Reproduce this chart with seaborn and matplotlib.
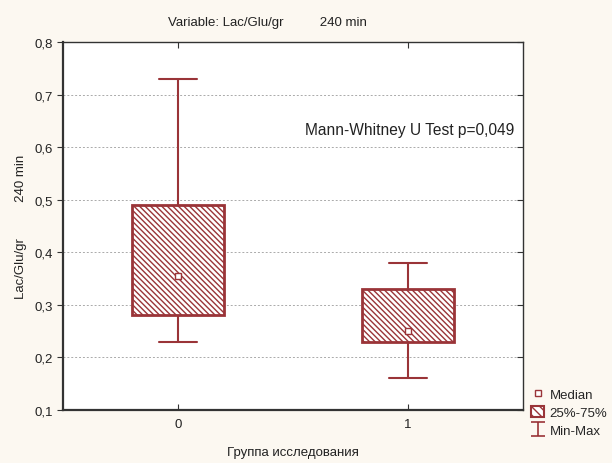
import numpy as np
import pandas as pd
import matplotlib
matplotlib.use("Agg")
import matplotlib.pyplot as plt
import seaborn as sns
from matplotlib.path import Path
from matplotlib.lines import Line2D
from matplotlib.patches import Patch
from matplotlib.ticker import FuncFormatter, MultipleLocator

# Data: five-number summaries
groups = ["0", "1"]
mins = [0.23, 0.16]
q1s = [0.28, 0.23]
medians = [0.355, 0.25]
q3s = [0.49, 0.33]
maxs = [0.73, 0.38]

RED = "#9A3438"
BG = "#FCF8F1"
TXT = "#222222"
HATCH = "\\" * 6

sns.set_theme(style="white")
plt.rcParams["font.family"] = ["Liberation Sans", "DejaVu Sans"]
plt.rcParams["hatch.linewidth"] = 1.0
plt.rcParams["hatch.color"] = RED

rows = []
for g, a, b, c, d, e in zip(groups, mins, q1s, medians, q3s, maxs):
    for v in (a, b, c, d, e):
        rows.append({"group": g, "value": v})
df = pd.DataFrame(rows)

fig = plt.figure(figsize=(6.12, 4.64), dpi=100, facecolor=BG)
ax = fig.add_axes([63 / 612, 53 / 464, 460 / 612, 368 / 464])
ax.set_facecolor("white")

sns.boxplot(
    data=df, x="group", y="value", order=groups, ax=ax,
    whis=(0, 100), width=0.4, showfliers=False,
    color="white", linecolor=RED, linewidth=1.5,
    medianprops={"visible": False},
    capwidths=0.165,
)
for p in ax.patches:
    p.set_hatch(HATCH)
    p.set_edgecolor(RED)
    p.set_facecolor("white")
    p.set_linewidth(2.0)

ax.plot(range(len(groups)), medians, linestyle="none", marker="s",
        markersize=4.5, markerfacecolor="white", markeredgecolor=RED,
        markeredgewidth=1.0, zorder=5)

ax.set_xlim(-0.5, 1.5)
ax.set_ylim(0.1, 0.8)
ax.yaxis.set_major_locator(MultipleLocator(0.1))
ax.yaxis.set_major_formatter(FuncFormatter(lambda v, p: f"{v:.1f}".replace(".", ",")))
ax.grid(axis="y", linestyle=(0, (2, 2)), color="#AAAAAA", linewidth=0.7)
ax.grid(axis="x", visible=False)
ax.set_axisbelow(True)

for s in ax.spines.values():
    s.set_color("#333333")
    s.set_linewidth(1.0)
ax.spines["left"].set_linewidth(1.6)
ax.spines["bottom"].set_linewidth(1.6)

ax.tick_params(axis="y", which="both", left=True, right=True, direction="out",
               length=4, width=0.8, color="#333333", labelsize=9.5, labelcolor=TXT)
ax.tick_params(axis="x", bottom=True, top=True, direction="in", length=4,
               width=0.8, color="#333333", labelsize=9.5, labelcolor=TXT, pad=6)
for t in ax.yaxis.get_major_ticks():
    t.tick2line.set_marker(matplotlib.lines.TICKLEFT)

ax.set_xlabel("Группа исследования", fontsize=9.5, color=TXT, labelpad=11)
ax.set_ylabel("Lac/Glu/gr          240 min", fontsize=9.5, color=TXT, labelpad=5)
fig.text(168 / 612, 1 - 23 / 464, "Variable: Lac/Glu/gr          240 min",
         fontsize=9.5, color=TXT, ha="left", va="center")

ax.text(0.552, 0.634, "Mann-Whitney U Test p=0,049", fontsize=11.2, color=TXT,
        ha="left", va="center")

ibeam = Path([(-1, 1), (1, 1), (0, 1), (0, -1), (-1, -1), (1, -1)],
             [Path.MOVETO, Path.LINETO, Path.MOVETO, Path.LINETO, Path.MOVETO, Path.LINETO])
handles = [
    Line2D([], [], linestyle="none", marker="s", markersize=4.5,
           markerfacecolor="white", markeredgecolor=RED, markeredgewidth=1.0),
    Patch(facecolor="white", edgecolor=RED, hatch="\\\\\\\\", linewidth=1.5),
    Line2D([], [], linestyle="none", marker=ibeam, markersize=10,
           markeredgecolor=RED, markerfacecolor="none", markeredgewidth=1.2),
]
fig.legend(handles, ["Median", "25%-75%", "Min-Max"], loc="upper left",
           bbox_to_anchor=(531 / 612, 1 - 389 / 464), frameon=False,
           fontsize=9.5, handlelength=1.0, handleheight=1.0, handletextpad=0.4,
           labelspacing=0.32, borderaxespad=0.0, borderpad=0.0)

fig.savefig("out.png", dpi=100, facecolor=BG)
